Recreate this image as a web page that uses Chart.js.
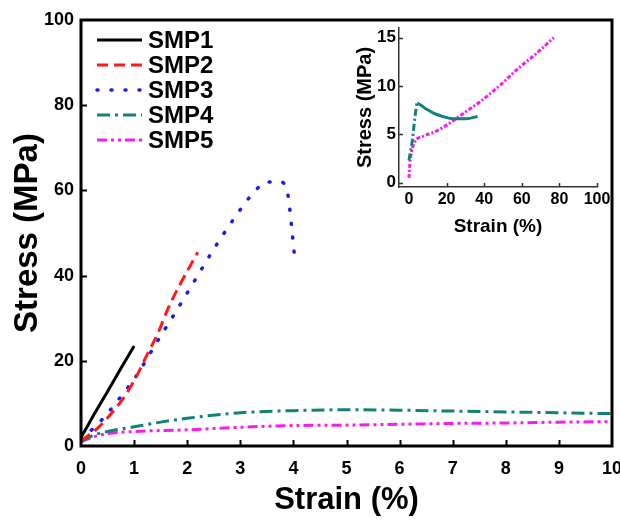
<!DOCTYPE html>
<html>
<head>
<meta charset="utf-8">
<script src="https://cdn.jsdelivr.net/npm/chart.js@4.4.0/dist/chart.umd.min.js"></script>
<style>
  html, body { margin: 0; padding: 0; background: #fff; }
  #wrap { position: relative; width: 620px; height: 520px; }
  #main { position: absolute; left: 0; top: 0; }
  #inset { position: absolute; left: 340px; top: 0; }
</style>
</head>
<body>
<div id="wrap">
  <canvas id="main" width="620" height="520"></canvas>
  <canvas id="inset" width="270" height="245"></canvas>
</div>
<script>
// Stress-strain curves (strain in %, stress in MPa)
const seriesNames = ['SMP1', 'SMP2', 'SMP3', 'SMP4', 'SMP5'];
const seriesColors = ['#000000', '#ff1a1a', '#1a1aee', '#138079', '#f51cf0'];

const smp1Strain = [0, 0.25, 0.5, 0.75, 1.0];
const smp1Stress = [2, 7.5, 12.8, 18.2, 23.5];

const smp2Strain = [0, 0.34, 0.61, 0.84, 1.06, 1.22, 1.46, 1.64, 1.86, 2.2];
const smp2Stress = [1.2, 4.5, 8.2, 12, 16.7, 20.8, 26.8, 32.3, 37.8, 45.5];

const smp3Strain = [0, 0.39, 0.7, 1.07, 1.41, 1.76, 2.15, 2.49, 2.86, 3.26, 3.5, 3.75, 3.9, 3.97, 4.03];
const smp3Stress = [1.5, 6.1, 10.8, 17, 24, 31, 39, 46, 53, 59.6, 62, 62, 58.7, 51, 43.5];

const smp4Strain = [0, 0.25, 0.5, 1, 1.5, 2, 3, 4, 5, 6, 7, 8, 9, 10];
const smp4Stress = [1, 2.6, 3.4, 4.5, 5.6, 6.5, 7.8, 8.3, 8.5, 8.4, 8.2, 8.0, 7.8, 7.6];

const smp5Strain = [0, 0.25, 0.5, 1, 2, 3, 4, 5, 6, 7, 8, 9, 10];
const smp5Stress = [1, 2.2, 2.9, 3.4, 3.8, 4.4, 4.8, 4.9, 5.1, 5.3, 5.4, 5.6, 5.7];

// inset: SMP4 and SMP5 over the full strain range
const insetSmp4Strain = [0, 0.5, 1.8, 3.2, 4.4, 8.5, 13, 18, 23.5, 30.5, 36.5];
const insetSmp4Stress = [2.3, 2.9, 4.4, 6.8, 8.2, 7.7, 7.2, 6.85, 6.6, 6.6, 6.85];

const insetSmp5Strain = [0, 0.5, 1.4, 3, 7.5, 13, 18, 23.5, 30, 38, 48, 58, 68, 77];
const insetSmp5Stress = [0.5, 2, 3.2, 4.2, 4.8, 5.2, 5.7, 6.4, 7.3, 8.4, 10, 11.8, 13.4, 15];

const mainXTicks = [0, 1, 2, 3, 4, 5, 6, 7, 8, 9, 10];
const mainYTicks = [0, 20, 40, 60, 80, 100];
const insetXTicks = [0, 20, 40, 60, 80, 100];
const insetYTicks = [0, 5, 10, 15];

const FONT = '"Liberation Sans", Arial, sans-serif';

const toPoints = (xs, ys) => xs.map((x, i) => ({ x: x, y: ys[i] }));

function lineSet(i, xs, ys, dash, width) {
    return {
        label: seriesNames[i],
        data: toPoints(xs, ys),
        borderColor: seriesColors[i],
        backgroundColor: seriesColors[i],
        borderWidth: width || 3,
        borderDash: dash,
        borderCapStyle: dash.length && dash[0] <= 2 ? 'round' : 'butt',
        pointRadius: 0,
        cubicInterpolationMode: 'monotone',
        fill: false
    };
}

// small tick marks pointing into the plot
const innerTicks = {
    id: 'innerTicks',
    afterDraw(chart, args, opts) {
        const { ctx, chartArea: a, scales: { x, y } } = chart;
        ctx.save();
        ctx.strokeStyle = opts.color;
        ctx.lineWidth = opts.width;
        ctx.beginPath();
        opts.x.forEach(v => {
            const px = Math.round(x.getPixelForValue(v)) + 0.5;
            ctx.moveTo(px, a.bottom);
            ctx.lineTo(px, a.bottom - opts.length);
        });
        opts.y.forEach(v => {
            const py = Math.round(y.getPixelForValue(v)) + 0.5;
            ctx.moveTo(a.left, py);
            ctx.lineTo(a.left + opts.length, py);
        });
        ctx.stroke();
        ctx.restore();
    }
};

// closed frame around the main plot
const plotFrame = {
    id: 'plotFrame',
    afterDraw(chart, args, opts) {
        if (!opts.enabled) return;
        const { ctx, chartArea: a } = chart;
        ctx.save();
        ctx.strokeStyle = '#000';
        ctx.lineWidth = 3;
        ctx.strokeRect(a.left, a.top, a.right - a.left, a.bottom - a.top);
        ctx.restore();
    }
};

// legend drawn inside the top-left corner of the plot
const cornerLegend = {
    id: 'cornerLegend',
    afterDraw(chart, args, opts) {
        if (!opts.enabled) return;
        const { ctx } = chart;
        ctx.save();
        ctx.font = 'bold 24px ' + FONT;
        ctx.textBaseline = 'middle';
        chart.data.datasets.forEach((ds, i) => {
            const yy = opts.top + i * opts.rowHeight;
            ctx.strokeStyle = ds.borderColor;
            ctx.lineWidth = ds.borderWidth;
            ctx.lineCap = ds.borderCapStyle;
            ctx.setLineDash(ds.borderDash);
            ctx.beginPath();
            ctx.moveTo(opts.left, yy);
            ctx.lineTo(opts.left + opts.sample, yy);
            ctx.stroke();
            ctx.setLineDash([]);
            ctx.fillStyle = '#000';
            ctx.fillText(ds.label, opts.left + opts.sample + 6, yy + 1);
        });
        ctx.restore();
    }
};

function fixedBox(size, horizontal) {
    return scale => {
        if (horizontal) {
            scale.height = size;
            scale.paddingLeft = 0;
            scale.paddingRight = 0;
        } else {
            scale.width = size;
            scale.paddingTop = 0;
            scale.paddingBottom = 0;
        }
    };
}

function setTicks(values) {
    return scale => { scale.ticks = values.map(v => ({ value: v })); };
}

new Chart(document.getElementById('main'), {
    type: 'line',
    data: {
        datasets: [
            lineSet(0, smp1Strain, smp1Stress, []),
            lineSet(1, smp2Strain, smp2Stress, [11, 6]),
            lineSet(2, smp3Strain, smp3Stress, [1, 13], 3.5),
            lineSet(3, smp4Strain, smp4Stress, [13, 5, 3, 5]),
            lineSet(4, smp5Strain, smp5Stress, [10, 4, 3, 4, 3, 4])
        ]
    },
    options: {
        responsive: false,
        animation: false,
        layout: { padding: { top: 20, right: 8, left: 0, bottom: 0 } },
        plugins: {
            legend: { display: false },
            tooltip: { enabled: false },
            plotFrame: { enabled: true },
            cornerLegend: { enabled: true, left: 97, top: 40, rowHeight: 25, sample: 45 },
            innerTicks: { x: mainXTicks.slice(1, -1), y: mainYTicks.slice(1, -1), length: 6, width: 2, color: '#000' }
        },
        scales: {
            x: {
                type: 'linear',
                min: 0,
                max: 10,
                afterFit: fixedBox(74, true),
                afterBuildTicks: setTicks(mainXTicks),
                grid: { display: false, drawTicks: false },
                border: { display: false },
                ticks: { padding: 12, color: '#000', font: { family: FONT, size: 18, weight: 'bold' } },
                title: {
                    display: true,
                    text: 'Strain (%)',
                    color: '#000',
                    padding: { top: 0, bottom: 1 },
                    font: { family: FONT, size: 31, weight: 'bold' }
                }
            },
            y: {
                type: 'linear',
                min: 0,
                max: 100,
                afterFit: fixedBox(81, false),
                afterBuildTicks: setTicks(mainYTicks),
                grid: { display: false, drawTicks: false },
                border: { display: false },
                ticks: { padding: 7, color: '#000', font: { family: FONT, size: 18, weight: 'bold' } },
                title: {
                    display: true,
                    text: 'Stress (MPa)',
                    color: '#000',
                    padding: { top: 8, bottom: 0 },
                    font: { family: FONT, size: 33, weight: 'bold' }
                }
            }
        }
    },
    plugins: [plotFrame, cornerLegend, innerTicks]
});

// inset: teal curve is dash-dot up to its yield peak, solid afterwards
const insetTeal = lineSet(3, insetSmp4Strain, insetSmp4Stress, []);
insetTeal.segment = { borderDash: ctx => (ctx.p0.parsed.x < 4.4 ? [7, 3, 2, 3] : undefined) };
const insetPink = lineSet(4, insetSmp5Strain, insetSmp5Stress, [4, 2, 2, 2]);

new Chart(document.getElementById('inset'), {
    type: 'line',
    data: { datasets: [insetTeal, insetPink] },
    options: {
        responsive: false,
        animation: false,
        layout: { padding: { top: 28, right: 13, left: 0, bottom: 0 } },
        plugins: {
            legend: { display: false },
            tooltip: { enabled: false },
            innerTicks: { x: insetXTicks.slice(1), y: insetYTicks, length: 4, width: 1.5, color: '#333' }
        },
        scales: {
            x: {
                type: 'linear',
                min: -5.3,
                max: 100,
                afterFit: fixedBox(58, true),
                afterBuildTicks: setTicks(insetXTicks),
                grid: { display: false, drawTicks: false },
                border: { display: true, color: '#333', width: 1.5 },
                ticks: { padding: 3, color: '#000', font: { family: FONT, size: 16, weight: 'bold' } },
                title: {
                    display: true,
                    text: 'Strain (%)',
                    color: '#000',
                    padding: { top: 0, bottom: 7 },
                    font: { family: FONT, size: 19, weight: 'bold' }
                }
            },
            y: {
                type: 'linear',
                min: -0.45,
                max: 16,
                afterFit: fixedBox(59, false),
                afterBuildTicks: setTicks(insetYTicks),
                grid: { display: false, drawTicks: false },
                border: { display: true, color: '#333', width: 1.5 },
                ticks: { padding: 3, color: '#000', font: { family: FONT, size: 17, weight: 'bold' } },
                title: {
                    display: true,
                    text: 'Stress (MPa)',
                    color: '#000',
                    padding: { top: 13, bottom: 0 },
                    font: { family: FONT, size: 20, weight: 'bold' }
                }
            }
        }
    },
    plugins: [innerTicks]
});
</script>
</body>
</html>
